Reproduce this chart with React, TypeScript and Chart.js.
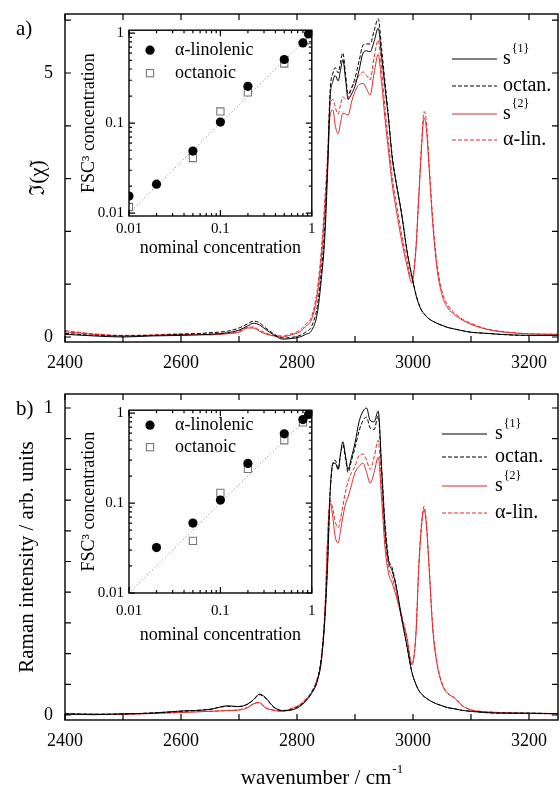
import React, { useEffect, useRef } from "react";
import { Chart, registerables } from "chart.js";

Chart.register(...registerables);

const SERIF = "'Liberation Serif', 'DejaVu Serif', serif";
const RED = "#e8262b";

// ---- spectra (shared wavenumber grid, cm^-1) ----
const WAVENUMBER = [
  2400, 2450, 2500, 2550, 2600, 2650, 2680, 2700, 2715, 2725,
  2735, 2745, 2760, 2775, 2790, 2805, 2815, 2825, 2835, 2842,
  2848, 2853, 2857, 2862, 2866, 2871, 2875, 2879, 2884, 2888,
  2894, 2900, 2907, 2914, 2920, 2926, 2933, 2940, 2946, 2952,
  2958, 2964, 2972, 2980, 2990, 2998, 3005, 3010, 3015, 3019,
  3023, 3028, 3034, 3041, 3050, 3060, 3072, 3085, 3100, 3125,
  3150, 3200, 3250,
];

// panel a) : imaginary part of chi
const A_S1 = [
  0.05, 0.02, 0.0, 0.02, 0.03, 0.05, 0.08, 0.13, 0.21, 0.26,
  0.23, 0.15, 0.04, -0.04, -0.03, 0.0, 0.05, 0.12, 0.45, 1.1,
  1.9, 3.2, 4.5, 4.85, 4.95, 4.85, 5.05, 5.25, 4.85, 4.5,
  4.6, 4.75, 5.05, 5.38, 5.42, 5.4, 5.6, 5.85, 5.3, 4.7,
  4.1, 3.4, 2.85, 2.35, 1.6, 1.15, 0.8, 0.62, 0.5, 0.44,
  0.39, 0.34, 0.3, 0.26, 0.22, 0.18, 0.15, 0.12, 0.09, 0.07,
  0.05, 0.03, 0.03,
];
const A_OCT = [
  0.07, 0.03, 0.02, 0.03, 0.05, 0.08, 0.11, 0.17, 0.25, 0.3,
  0.27, 0.18, 0.06, -0.02, -0.01, 0.03, 0.09, 0.2, 0.58, 1.25,
  2.1, 3.4, 4.65, 5.0, 5.1, 5.0, 5.2, 5.38, 4.95, 4.6,
  4.72, 4.9, 5.22, 5.53, 5.55, 5.55, 5.8, 6.03, 5.45, 4.8,
  4.15, 3.45, 2.87, 2.37, 1.62, 1.16, 0.81, 0.63, 0.5, 0.44,
  0.39, 0.34, 0.3, 0.26, 0.22, 0.18, 0.15, 0.12, 0.09, 0.07,
  0.05, 0.03, 0.03,
];
const A_S2 = [
  0.1, 0.05, 0.02, 0.03, 0.05, 0.04, 0.06, 0.09, 0.17, 0.17,
  0.11, 0.06, 0.02, 0.0, 0.04, 0.1, 0.2, 0.33, 0.8, 1.5,
  2.4, 3.3, 4.2, 4.3, 4.0, 3.85, 4.05, 4.24, 4.22, 4.2,
  4.45, 4.65, 4.78, 4.8, 4.7, 4.58, 5.0, 5.35, 4.8, 4.1,
  3.5, 2.9, 2.35, 1.85, 1.33, 1.02, 1.65, 2.65, 3.62, 4.15,
  3.95, 3.15, 2.15, 1.33, 0.8, 0.55, 0.42, 0.32, 0.24, 0.15,
  0.1, 0.06, 0.05,
];
const A_ALIN = [
  0.12, 0.06, 0.03, 0.04, 0.06, 0.06, 0.07, 0.11, 0.18, 0.19,
  0.13, 0.08, 0.03, 0.02, 0.06, 0.13, 0.24, 0.38, 0.9, 1.65,
  2.6, 3.5, 4.4, 4.5, 4.35, 4.22, 4.4, 4.55, 4.5, 4.52,
  4.7, 4.83, 4.95, 5.02, 4.95, 4.87, 5.3, 5.62, 5.05, 4.3,
  3.65, 3.05, 2.48, 1.97, 1.43, 1.1, 1.7, 2.7, 3.72, 4.27,
  4.07, 3.25, 2.25, 1.43, 0.86, 0.6, 0.45, 0.34, 0.26, 0.16,
  0.11, 0.06, 0.05,
];

// panel b) : Raman intensity
const B_S1 = [
  0.003, 0.001, 0.004, 0.006, 0.013, 0.018, 0.03, 0.027, 0.036, 0.05,
  0.068, 0.058, 0.026, 0.014, 0.016, 0.028, 0.045, 0.07, 0.11, 0.18,
  0.31, 0.5, 0.72, 0.82, 0.82, 0.8, 0.85, 0.89, 0.84, 0.8,
  0.84, 0.886, 0.955, 0.99, 1.0, 0.96, 0.955, 0.99, 0.8, 0.6,
  0.5, 0.47, 0.41, 0.32, 0.22, 0.14, 0.1, 0.08, 0.068, 0.06,
  0.055, 0.048, 0.042, 0.036, 0.03, 0.024, 0.02, 0.015, 0.012, 0.008,
  0.006, 0.006, 0.004,
];
const B_OCT = [
  0.004, 0.002, 0.003, 0.007, 0.012, 0.019, 0.028, 0.028, 0.035, 0.049,
  0.066, 0.056, 0.025, 0.015, 0.017, 0.03, 0.047, 0.073, 0.115, 0.19,
  0.32, 0.51, 0.72, 0.82, 0.83, 0.8, 0.85, 0.88, 0.83, 0.79,
  0.83, 0.87, 0.925, 0.96, 0.97, 0.935, 0.93, 0.975, 0.8, 0.62,
  0.51, 0.48, 0.41, 0.32, 0.22, 0.14, 0.1, 0.08, 0.068, 0.06,
  0.055, 0.048, 0.042, 0.036, 0.03, 0.024, 0.02, 0.015, 0.012, 0.008,
  0.006, 0.006, 0.004,
];
const B_S2 = [
  0.004, 0.003, 0.002, 0.005, 0.008, 0.012, 0.014, 0.016, 0.024, 0.036,
  0.04, 0.024, 0.015, 0.012, 0.02, 0.033, 0.05, 0.072, 0.115, 0.175,
  0.33, 0.58, 0.69, 0.64, 0.58, 0.56, 0.6, 0.645, 0.69, 0.71,
  0.75, 0.79, 0.81, 0.82, 0.79, 0.755, 0.79, 0.84, 0.7, 0.54,
  0.46, 0.43, 0.38, 0.32, 0.244, 0.163, 0.26, 0.48, 0.62, 0.67,
  0.62, 0.47, 0.28, 0.17, 0.1, 0.07, 0.055, 0.03, 0.016, 0.01,
  0.008, 0.005, 0.004,
];
const B_ALIN = [
  0.005, 0.003, 0.003, 0.005, 0.009, 0.012, 0.015, 0.017, 0.025, 0.037,
  0.041, 0.025, 0.016, 0.013, 0.021, 0.034, 0.052, 0.075, 0.12, 0.18,
  0.34, 0.59, 0.7, 0.67, 0.63, 0.61, 0.64, 0.68, 0.73, 0.76,
  0.79, 0.81, 0.845, 0.85, 0.83, 0.8, 0.84, 0.895, 0.74, 0.57,
  0.48, 0.45, 0.39, 0.33, 0.25, 0.168, 0.265, 0.49, 0.63, 0.68,
  0.63, 0.48, 0.29, 0.175, 0.105, 0.072, 0.056, 0.031, 0.017, 0.011,
  0.008, 0.005, 0.004,
];

// ---- inset data (nominal vs FSC^3 concentration) ----
const A_NOMINAL_LIN = [0.01, 0.02, 0.05, 0.1, 0.2, 0.5, 0.8, 0.92];
const A_FSC_LIN = [0.0155, 0.021, 0.049, 0.103, 0.257, 0.51, 0.78, 0.98];
const A_NOMINAL_OCT = [0.01, 0.05, 0.1, 0.2, 0.5, 0.95];
const A_FSC_OCT = [0.0117, 0.041, 0.135, 0.22, 0.46, 0.84];
const B_NOMINAL_LIN = [0.02, 0.05, 0.1, 0.2, 0.5, 0.8, 0.92];
const B_FSC_LIN = [0.032, 0.06, 0.108, 0.276, 0.59, 0.85, 0.97];
const B_NOMINAL_OCT = [0.05, 0.1, 0.2, 0.5, 0.8];
const B_FSC_OCT = [0.038, 0.13, 0.24, 0.5, 0.79];
const DIAGONAL = [0.01, 1];

// ---- ticks and labels ----
const X_TICKS = [2400, 2500, 2600, 2700, 2800, 2900, 3000, 3100, 3200];
const X_LABELED = [2400, 2600, 2800, 3000, 3200];
const A_Y_TICKS = [0, 1, 2, 3, 4, 5, 6];
const A_Y_LABELED = [0, 5];
const B_Y_TICKS = [0, 0.1, 0.2, 0.3, 0.4, 0.5, 0.6, 0.7, 0.8, 0.9, 1];
const B_Y_LABELED = [0, 1];
const LOG_TICKS = [
  0.01, 0.02, 0.03, 0.04, 0.05, 0.06, 0.07, 0.08, 0.09,
  0.1, 0.2, 0.3, 0.4, 0.5, 0.6, 0.7, 0.8, 0.9, 1,
];
const LOG_LABELED = [0.01, 0.1, 1];
const LEGEND_TEXT = ["s", "octan.", "s", "α-lin."];
const LEGEND_SUP = ["{1}", "", "{2}", ""];
const INSET_LEGEND = ["α-linolenic", "octanoic"];

const near = (v: number, list: number[]) =>
  list.some((t) => Math.abs(t - v) <= 1e-6 * Math.max(1e-3, Math.abs(t)));

// invisible tick marks used only as a label offset; paddings zeroed so the plot area is exact
const offsetGrid = (len: number) => ({
  display: true, drawOnChartArea: false, drawTicks: true, tickLength: len, color: "rgba(0,0,0,0)",
});
const zeroPad = (sc: any) => {
  sc.paddingTop = 0; sc.paddingBottom = 0; sc.paddingLeft = 0; sc.paddingRight = 0;
};

function framePlugin(xTicks: number[], xMajor: number[], yTicks: number[], yMajor: number[], major: number, minor: number) {
  return {
    id: "frame",
    afterDatasetsDraw(chart: any) {
      const { ctx, chartArea: a, scales } = chart;
      const xs = scales.x;
      const ys = scales.y;
      ctx.save();
      ctx.strokeStyle = "#000";
      ctx.lineWidth = 1.4;
      ctx.strokeRect(a.left, a.top, a.right - a.left, a.bottom - a.top);
      ctx.lineWidth = 1.2;
      ctx.beginPath();
      for (const v of xTicks) {
        const p = xs.getPixelForValue(v);
        const L = near(v, xMajor) ? major : minor;
        ctx.moveTo(p, a.bottom);
        ctx.lineTo(p, a.bottom - L);
        ctx.moveTo(p, a.top);
        ctx.lineTo(p, a.top + L);
      }
      for (const v of yTicks) {
        const p = ys.getPixelForValue(v);
        const L = near(v, yMajor) ? major : minor;
        ctx.moveTo(a.left, p);
        ctx.lineTo(a.left + L, p);
        ctx.moveTo(a.right, p);
        ctx.lineTo(a.right - L, p);
      }
      ctx.stroke();
      ctx.restore();
    },
  };
}

type TextItem = { text: string; x: number; y: number; size: number; sup?: string; supSize?: number; supRise?: number; center?: boolean };

function textPlugin(items: TextItem[]) {
  return {
    id: "texts",
    afterDraw(chart: any) {
      const ctx = chart.ctx;
      for (const t of items) {
        ctx.save();
        ctx.fillStyle = "#000";
        ctx.textBaseline = "alphabetic";
        ctx.textAlign = "left";
        ctx.font = `${t.size}px ${SERIF}`;
        const w = ctx.measureText(t.text).width;
        let sw = 0;
        if (t.sup) {
          ctx.font = `${t.supSize}px ${SERIF}`;
          sw = ctx.measureText(t.sup).width + 1;
        }
        const x = t.center ? t.x - (w + sw) / 2 : t.x;
        ctx.font = `${t.size}px ${SERIF}`;
        ctx.fillText(t.text, x, t.y);
        if (t.sup) {
          ctx.font = `${t.supSize}px ${SERIF}`;
          ctx.fillText(t.sup, x + w + 1, t.y - (t.supRise || 8));
        }
        ctx.restore();
      }
    },
  };
}

function seriesLegendPlugin(x0: number, x1: number, tx: number, rows: number[]) {
  const styles = [
    { color: "#000", dash: [] as number[] },
    { color: "#000", dash: [4, 2] },
    { color: RED, dash: [] as number[] },
    { color: RED, dash: [4, 2] },
  ];
  return {
    id: "seriesLegend",
    afterDraw(chart: any) {
      const { ctx, chartArea: a } = chart;
      ctx.save();
      rows.forEach((dy, i) => {
        const y = a.top + dy;
        ctx.strokeStyle = styles[i].color;
        ctx.lineWidth = 1;
        ctx.setLineDash(styles[i].dash);
        ctx.beginPath();
        ctx.moveTo(a.right + x0, y);
        ctx.lineTo(a.right + x1, y);
        ctx.stroke();
        ctx.setLineDash([]);
        ctx.fillStyle = "#000";
        ctx.textAlign = "left";
        ctx.textBaseline = "middle";
        ctx.font = `20px ${SERIF}`;
        const x = a.right + tx;
        ctx.fillText(LEGEND_TEXT[i], x, y);
        if (LEGEND_SUP[i]) {
          const w = ctx.measureText(LEGEND_TEXT[i]).width;
          ctx.font = `12px ${SERIF}`;
          ctx.fillText(LEGEND_SUP[i], x + w + 1, y - 10);
        }
      });
      ctx.restore();
    },
  };
}

function insetLegendPlugin(rows: number[]) {
  return {
    id: "insetLegend",
    afterDraw(chart: any) {
      const { ctx, chartArea: a } = chart;
      ctx.save();
      const mx = a.left + 21;
      ctx.fillStyle = "#000";
      ctx.beginPath();
      ctx.arc(mx, a.top + rows[0], 4.6, 0, Math.PI * 2);
      ctx.fill();
      ctx.strokeStyle = "#777";
      ctx.lineWidth = 1.1;
      ctx.strokeRect(mx - 3.6, a.top + rows[1] - 3.6, 7.2, 7.2);
      ctx.fillStyle = "#000";
      ctx.font = `18px ${SERIF}`;
      ctx.textAlign = "left";
      ctx.textBaseline = "middle";
      ctx.fillText(INSET_LEGEND[0], a.left + 46, a.top + rows[0]);
      ctx.fillText(INSET_LEGEND[1], a.left + 46, a.top + rows[1]);
      ctx.restore();
    },
  };
}

type MainSpec = {
  s1: number[]; oct: number[]; s2: number[]; alin: number[];
  yMin: number; yMax: number; yTicks: number[]; yLabeled: number[];
  yTitle: string; yTitlePad: number; xH: number;
  legend: { x0: number; x1: number; tx: number; rows: number[] };
  texts: TextItem[];
};

function series(ys: number[]) {
  return WAVENUMBER.map((w, i) => ({ x: w, y: ys[i] }));
}

function mainConfig(s: MainSpec): any {
  const common = { pointRadius: 0, borderWidth: 1, cubicInterpolationMode: "monotone", fill: false };
  return {
    type: "line",
    data: {
      datasets: [
        { ...common, label: "s{1}", data: series(s.s1), borderColor: "#000" },
        { ...common, label: "octan.", data: series(s.oct), borderColor: "#000", borderDash: [4, 2] },
        { ...common, label: "s{2}", data: series(s.s2), borderColor: RED },
        { ...common, label: "α-lin.", data: series(s.alin), borderColor: RED, borderDash: [4, 2] },
      ],
    },
    options: {
      responsive: false,
      animation: false,
      layout: { padding: { left: 0, top: 14, right: 2, bottom: 0 } },
      plugins: { legend: { display: false }, tooltip: { enabled: false } },
      scales: {
        x: {
          type: "linear",
          min: 2400,
          max: 3250,
          afterBuildTicks: (sc: any) => { sc.ticks = X_TICKS.map((v) => ({ value: v })); },
          afterFit: (sc: any) => { sc.height = s.xH; zeroPad(sc); },
          ticks: {
            autoSkip: false, maxRotation: 0, padding: 0, color: "#000",
            font: { family: SERIF, size: 18 },
            callback: (v: number) => (near(v, X_LABELED) ? String(v) : ""),
          },
          grid: offsetGrid(10),
          border: { display: false },
        },
        y: {
          type: "linear",
          min: s.yMin,
          max: s.yMax,
          afterBuildTicks: (sc: any) => { sc.ticks = s.yTicks.map((v) => ({ value: v })); },
          afterFit: (sc: any) => { sc.width = 65; zeroPad(sc); },
          ticks: {
            autoSkip: false, padding: 0, color: "#000",
            font: { family: SERIF, size: 18 },
            callback: (v: number) => (near(v, s.yLabeled) ? String(v) : ""),
          },
          grid: offsetGrid(12),
          border: { display: false },
          title: {
            display: true, text: s.yTitle, color: "#000",
            font: { family: SERIF, size: 21 },
            padding: { top: s.yTitlePad, bottom: 0 },
          },
        },
      },
    },
    plugins: [
      framePlugin(X_TICKS, X_TICKS, s.yTicks, s.yTicks, 6, 6),
      seriesLegendPlugin(s.legend.x0, s.legend.x1, s.legend.tx, s.legend.rows),
      textPlugin(s.texts),
    ],
  };
}

type InsetSpec = {
  linX: number[]; linY: number[]; octX: number[]; octY: number[];
  yMin: number; yMax: number; xH: number; xLabelPad: number; xTitlePad: number;
  legendRows: number[];
};

function insetConfig(s: InsetSpec): any {
  return {
    type: "scatter",
    data: {
      datasets: [
        {
          label: INSET_LEGEND[0],
          data: s.linX.map((x, i) => ({ x, y: s.linY[i] })),
          pointStyle: "circle", pointRadius: 4.6, backgroundColor: "#000", borderColor: "#000", borderWidth: 0,
          clip: 0,
        },
        {
          label: INSET_LEGEND[1],
          data: s.octX.map((x, i) => ({ x, y: s.octY[i] })),
          pointStyle: "rect", pointRadius: 5.1, backgroundColor: "rgba(255,255,255,0)", borderColor: "#777", borderWidth: 1.1,
          clip: 0,
        },
        {
          label: "ideal",
          data: DIAGONAL.map((v) => ({ x: v, y: v })),
          showLine: true, pointRadius: 0, borderColor: "#888", borderWidth: 1, borderDash: [1.2, 2.4],
          clip: 0,
        },
      ],
    },
    options: {
      responsive: false,
      animation: false,
      layout: { padding: { left: 0, top: 6, right: 6, bottom: 0 } },
      plugins: { legend: { display: false }, tooltip: { enabled: false } },
      scales: {
        x: {
          type: "logarithmic",
          min: 0.01,
          max: 1,
          afterBuildTicks: (sc: any) => { sc.ticks = LOG_TICKS.map((v) => ({ value: v })); },
          afterFit: (sc: any) => { sc.height = s.xH; zeroPad(sc); },
          ticks: {
            autoSkip: false, maxRotation: 0, padding: 0, color: "#000",
            font: { family: SERIF, size: 15 },
            callback: (v: number) => (near(v, LOG_LABELED) ? String(v) : ""),
          },
          grid: offsetGrid(s.xLabelPad),
          border: { display: false },
          title: {
            display: true, text: "nominal concentration", color: "#000",
            font: { family: SERIF, size: 18 },
            padding: { top: 0, bottom: s.xTitlePad },
          },
        },
        y: {
          type: "logarithmic",
          min: s.yMin,
          max: s.yMax,
          afterBuildTicks: (sc: any) => { sc.ticks = LOG_TICKS.map((v) => ({ value: v })); },
          afterFit: (sc: any) => { sc.width = 53; zeroPad(sc); },
          ticks: {
            autoSkip: false, padding: 0, color: "#000",
            font: { family: SERIF, size: 15 },
            callback: (v: number) => (near(v, LOG_LABELED) ? String(v) : ""),
          },
          grid: offsetGrid(5),
          border: { display: false },
          title: {
            display: true, text: "FSC³ concentration", color: "#000",
            font: { family: SERIF, size: 18 },
            padding: { top: 2, bottom: 0 },
          },
        },
      },
    },
    plugins: [framePlugin(LOG_TICKS, LOG_LABELED, LOG_TICKS, LOG_LABELED, 6, 3), insetLegendPlugin(s.legendRows)],
  };
}

function ChartCanvas({ config, left, top, width, height, bg }: { config: () => any; left: number; top: number; width: number; height: number; bg?: string }) {
  const ref = useRef<HTMLCanvasElement>(null);
  useEffect(() => {
    const chart = new Chart(ref.current as HTMLCanvasElement, config());
    return () => chart.destroy();
  }, []);
  return (
    <canvas
      ref={ref}
      width={width}
      height={height}
      style={{ position: "absolute", left, top, width, height, background: bg || "transparent" }}
    />
  );
}

const PANEL_A: MainSpec = {
  s1: A_S1, oct: A_OCT, s2: A_S2, alin: A_ALIN,
  yMin: -0.095, yMax: 6.117, yTicks: A_Y_TICKS, yLabeled: A_Y_LABELED,
  yTitle: "ℑ(χ̃)", yTitlePad: 26, xH: 38,
  legend: { x0: -106, x1: -61, tx: -55, rows: [45, 72, 100, 126] },
  texts: [{ text: "a)", x: 16, y: 35, size: 21 }],
};

const PANEL_B: MainSpec = {
  s1: B_S1, oct: B_OCT, s2: B_S2, alin: B_ALIN,
  yMin: -0.0163, yMax: 1.0456, yTicks: B_Y_TICKS, yLabeled: B_Y_LABELED,
  yTitle: "Raman intensity / arb. units", yTitlePad: 15, xH: 67,
  legend: { x0: -116, x1: -71, tx: -63, rows: [40, 63, 92, 119] },
  texts: [
    { text: "b)", x: 16, y: 35, size: 21 },
    { text: "wavenumber / cm", x: 322, y: 404, size: 21, sup: "-1", supSize: 13, supRise: 11, center: true },
  ],
};

const INSET_A: InsetSpec = {
  linX: A_NOMINAL_LIN, linY: A_FSC_LIN, octX: A_NOMINAL_OCT, octY: A_FSC_OCT,
  yMin: 0.0093, yMax: 1.08, xH: 46, xLabelPad: 4, xTitlePad: 3, legendRows: [20, 43],
};

const INSET_B: InsetSpec = {
  linX: B_NOMINAL_LIN, linY: B_FSC_LIN, octX: B_NOMINAL_OCT, octY: B_FSC_OCT,
  yMin: 0.01, yMax: 1.08, xH: 53, xLabelPad: 9, xTitlePad: 0, legendRows: [15, 37],
};

export default function App() {
  return (
    <div style={{ position: "absolute", left: 0, top: 0, width: 560, height: 787, background: "#fff", overflow: "hidden" }}>
      <ChartCanvas config={() => mainConfig(PANEL_A)} left={0} top={0} width={560} height={380} />
      <ChartCanvas config={() => mainConfig(PANEL_B)} left={0} top={380} width={560} height={407} />
      <ChartCanvas config={() => insetConfig(INSET_A)} left={76} top={24} width={242} height={238} bg="#fff" />
      <ChartCanvas config={() => insetConfig(INSET_B)} left={76} top={404} width={242} height={242} bg="#fff" />
    </div>
  );
}
